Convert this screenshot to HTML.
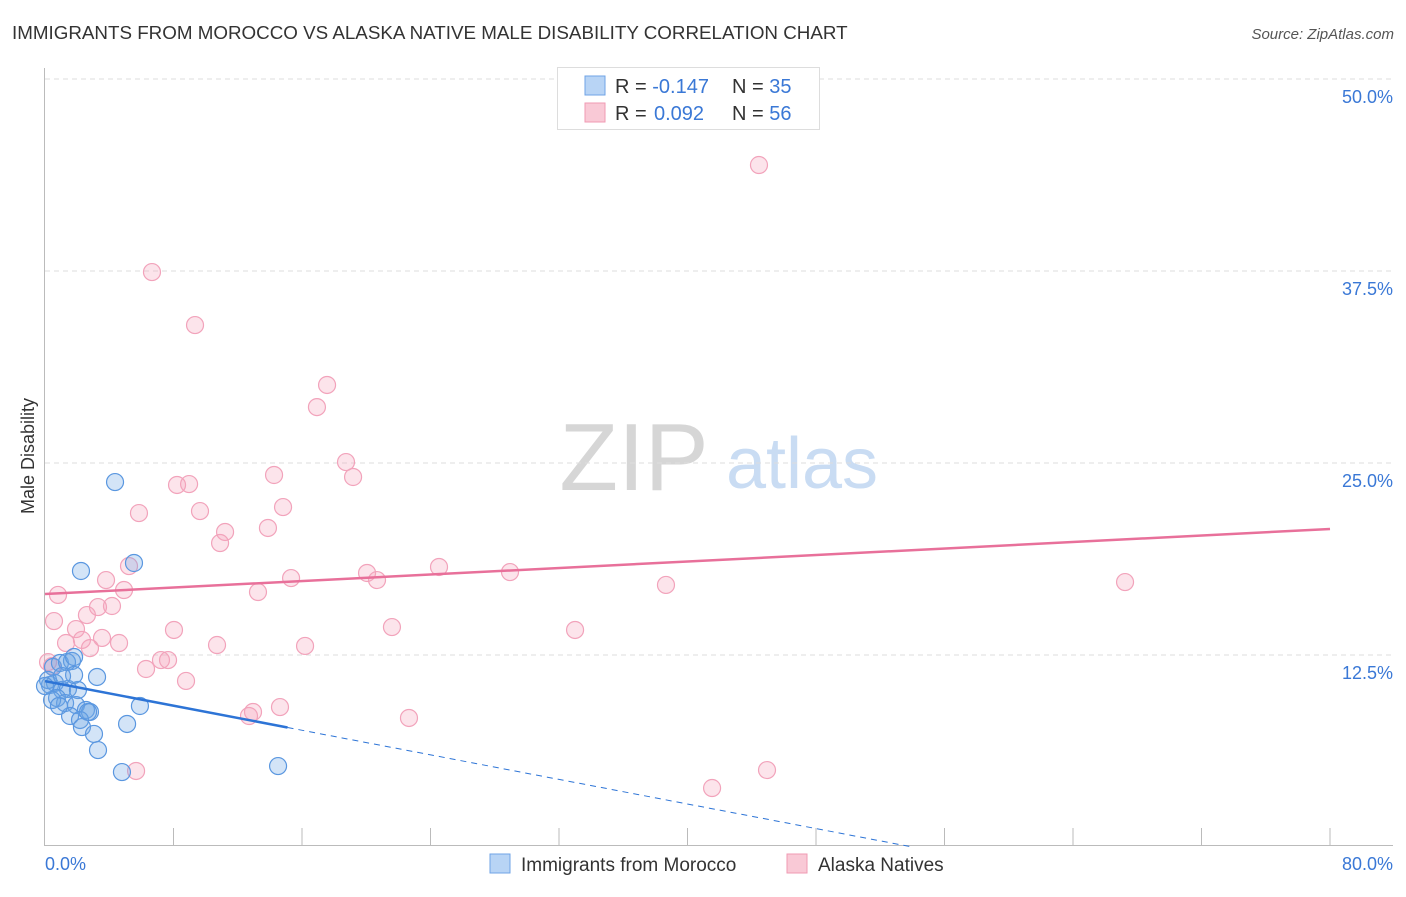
<!DOCTYPE html>
<html><head><meta charset="utf-8"><style>
body{margin:0;background:#fff;font-family:"Liberation Sans",sans-serif;}
svg text{font-family:"Liberation Sans",sans-serif;}
</style></head><body>
<svg id="chart" width="1406" height="892" xmlns="http://www.w3.org/2000/svg">
<text x="12" y="39" font-size="18.8" fill="#333">IMMIGRANTS FROM MOROCCO VS ALASKA NATIVE MALE DISABILITY CORRELATION CHART</text>
<text x="1394" y="39" font-size="15" fill="#555" font-style="italic" text-anchor="end">Source: ZipAtlas.com</text>
<g>
<text x="634" y="490" font-size="96" fill="#d6d6d6" font-family="Liberation Serif" text-anchor="middle">ZIP</text>
<text x="802" y="488" font-size="72" fill="#c9dcf3" text-anchor="middle">atlas</text>
</g>
<g id="grid"></g>
<g id="axes"></g>
<g id="pts"></g>
<g id="lines"></g>
<text transform="translate(34,456) rotate(-90)" font-size="18" fill="#333" text-anchor="middle">Male Disability</text>
<g>
<rect x="557.5" y="67.5" width="262" height="62" fill="#fff" stroke="#ddd"/>
<rect x="585" y="76" width="20" height="19" fill="#b8d4f5" stroke="#6fa3e6"/>
<rect x="585" y="103" width="20" height="19" fill="#f9c9d6" stroke="#f09ab3"/>
<text x="615" y="93" font-size="20" fill="#333">R = <tspan fill="#3a78d6">-0.147</tspan><tspan x="732">N = </tspan><tspan fill="#3a78d6">35</tspan></text>
<text x="615" y="120" font-size="20" fill="#333">R = <tspan fill="#3a78d6" x="654">0.092</tspan><tspan x="732">N = </tspan><tspan fill="#3a78d6">56</tspan></text>
</g>
<g>
<rect x="490" y="854" width="20" height="19" fill="#b8d4f5" stroke="#6fa3e6"/>
<text x="521" y="871" font-size="19" fill="#333">Immigrants from Morocco</text>
<rect x="787" y="854" width="20" height="19" fill="#f9c9d6" stroke="#f09ab3"/>
<text x="818" y="871" font-size="19" fill="#333">Alaska Natives</text>
</g>
</svg>
<script>
const blueX=[4.36,2.24,5.54,0.50,0.93,1.68,1.37,1.81,0.31,0.62,1.06,1.43,2.05,3.24,0.75,1.25,1.93,2.55,2.80,1.56,2.18,2.68,2.30,3.05,3.30,5.11,5.91,4.79,14.51,0.19,0.44,0.87,1.81,0.0,1.06];
const blueY=[23.76,17.97,18.49,11.72,11.98,12.11,12.04,12.37,10.55,10.68,10.22,10.29,10.22,11.07,9.70,9.37,9.24,8.92,8.79,8.53,8.27,8.79,7.81,7.36,6.31,8.01,9.18,4.88,5.27,10.87,9.57,9.18,11.20,10.48,11.13];
const pinkX=[44.45,6.66,9.34,17.56,16.93,18.74,19.18,14.26,8.22,8.97,14.82,5.85,9.65,11.21,10.90,13.88,5.23,3.80,4.92,0.81,13.26,15.32,20.05,20.67,24.53,28.95,38.66,67.24,4.17,3.30,2.61,0.56,1.93,8.03,21.60,33.00,3.55,2.30,1.31,4.61,2.80,10.71,16.19,7.22,7.66,6.29,8.78,0.19,0.44,22.66,12.95,12.70,14.63,5.67,41.53,44.95];
const pinkY=[44.40,37.43,33.98,30.08,28.64,25.06,24.09,24.22,23.57,23.63,22.13,21.74,21.87,20.51,19.79,20.77,18.29,17.38,16.73,16.41,16.60,17.51,17.84,17.38,18.23,17.90,17.06,17.25,15.69,15.62,15.10,14.71,14.19,14.13,14.32,14.13,13.61,13.48,13.28,13.28,12.95,13.15,13.09,12.17,12.17,11.59,10.81,12.04,11.78,8.40,8.79,8.53,9.11,4.95,3.84,5.01];
const yTicks=[12.5,25,37.5,50];
const yTickLabels=["12.5%","25.0%","37.5%","50.0%"];
const xTickLabels=["0.0%","80.0%"];
const blueTrend=[10.8,-0.2];  // intercept, slope
const pinkTrend=[16.47,0.0529];
const blueSolidEnd=15.1;

const NS="http://www.w3.org/2000/svg";
const sx=v=>45+v/80*1285;
const sy=v=>847-v/50*768;
function mk(tag,attrs,parent){const e=document.createElementNS(NS,tag);for(const k in attrs)e.setAttribute(k,attrs[k]);document.getElementById(parent).appendChild(e);return e;}

yTicks.forEach((t,i)=>{
  const l=mk('line',{x1:45,x2:1393,y1:sy(t),y2:sy(t),stroke:'#ddd','stroke-dasharray':'5,4'},'grid');
  
  
  const tx=mk('text',{x:1393,y:sy(t)+24,'font-size':18,fill:'#3a78d6','text-anchor':'end'},'axes');
  tx.textContent=yTickLabels[i];
  
  
});
let a=mk('line',{x1:44.5,x2:44.5,y1:68,y2:845,stroke:'#bbb'},'axes');


a=mk('line',{x1:44,x2:1393,y1:845.5,y2:845.5,stroke:'#bbb'},'axes');


for(let i=1;i<=10;i++){
  const t=mk('line',{x1:sx(i*8),x2:sx(i*8),y1:828,y2:845,stroke:'#bbb'},'axes');
  
  
}
[[0,'start',45],[80,'end',1393]].forEach((d,i)=>{
  const tx=mk('text',{x:d[2],y:870,'font-size':18,fill:'#3a78d6','text-anchor':d[1]},'axes');
  tx.textContent=xTickLabels[i];
  
  
});
pinkX.forEach((x,i)=>{
  const c=mk('circle',{cx:sx(x),cy:sy(pinkY[i]),r:8.5,fill:'rgba(245,165,190,0.3)',stroke:'#f2a3bb','stroke-width':1.2},'pts');
  
  
});
blueX.forEach((x,i)=>{
  const c=mk('circle',{cx:sx(x),cy:sy(blueY[i]),r:8.5,fill:'rgba(110,165,230,0.3)',stroke:'#5a97e0','stroke-width':1.2},'pts');
  
  
});
let l=mk('line',{x1:sx(0),y1:sy(pinkTrend[0]),x2:sx(80),y2:sy(pinkTrend[0]+80*pinkTrend[1]),stroke:'#e8709a','stroke-width':2.5},'lines');


l=mk('line',{x1:sx(0),y1:sy(blueTrend[0]),x2:sx(blueSolidEnd),y2:sy(blueTrend[0]+blueSolidEnd*blueTrend[1]),stroke:'#2d74d6','stroke-width':2.5},'lines');


const xz=-blueTrend[0]/blueTrend[1];
l=mk('line',{x1:sx(blueSolidEnd),y1:sy(blueTrend[0]+blueSolidEnd*blueTrend[1]),x2:sx(xz),y2:sy(0),stroke:'#2d74d6','stroke-width':1,'stroke-dasharray':'6,5'},'lines');


</script>
</body></html>
